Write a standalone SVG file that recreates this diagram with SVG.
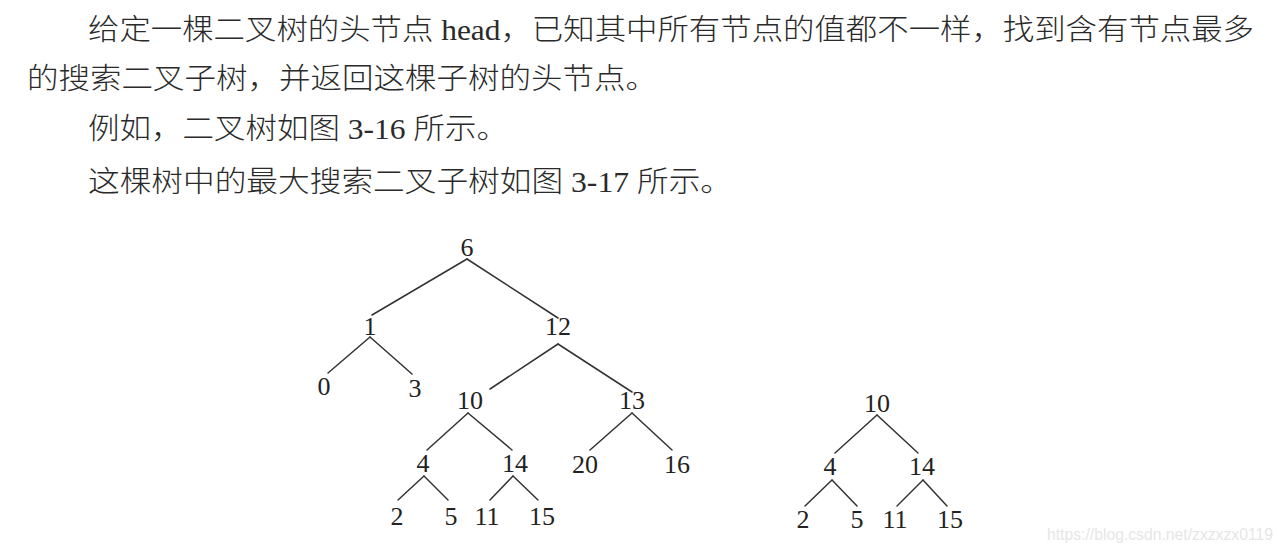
<svg xmlns="http://www.w3.org/2000/svg" width="1279" height="551" viewBox="0 0 1279 551">
<style>
.p{font-family:"Liberation Serif","Noto Sans CJK SC",serif;font-size:29px;font-weight:300;fill:#2a2a2a}
.n{font-family:"Liberation Serif",serif;font-size:26px;fill:#222;text-anchor:middle}
.e{stroke:#333;stroke-width:1.5;fill:none;stroke-linecap:round}
.w{font-family:"Liberation Sans",sans-serif;font-size:16px;fill:#e6e6e6}
</style>
<rect width="1279" height="551" fill="#fff"/>
<g id="text">
<text class="p" x="88" y="40" textLength="1166" lengthAdjust="spacingAndGlyphs">给定一棵二叉树的头节点 head，已知其中所有节点的值都不一样，找到含有节点最多</text>
<text class="p" x="27" y="89" textLength="630" lengthAdjust="spacingAndGlyphs">的搜索二叉子树，并返回这棵子树的头节点。</text>
<text class="p" x="88" y="139" textLength="420" lengthAdjust="spacingAndGlyphs">例如，二叉树如图 3-16 所示。</text>
<text class="p" x="88" y="192" textLength="644" lengthAdjust="spacingAndGlyphs">这棵树中的最大搜索二叉子树如图 3-17 所示。</text>
</g>
<g id="connectors">
<line class="e" x1="467" y1="259" x2="372" y2="315"/>
<line class="e" x1="467" y1="259" x2="558" y2="318"/>
<line class="e" x1="370" y1="337" x2="328" y2="373"/>
<line class="e" x1="370" y1="337" x2="412" y2="374"/>
<line class="e" x1="558" y1="344" x2="490" y2="389"/>
<line class="e" x1="558" y1="344" x2="632" y2="392"/>
<line class="e" x1="468" y1="413" x2="427" y2="450"/>
<line class="e" x1="468" y1="413" x2="512" y2="450"/>
<line class="e" x1="632" y1="413" x2="590" y2="450"/>
<line class="e" x1="632" y1="413" x2="672" y2="450"/>
<line class="e" x1="424" y1="476" x2="398" y2="500"/>
<line class="e" x1="424" y1="476" x2="448" y2="500"/>
<line class="e" x1="513" y1="476" x2="490" y2="500"/>
<line class="e" x1="513" y1="476" x2="538" y2="500"/>
<line class="e" x1="877" y1="415" x2="835" y2="453"/>
<line class="e" x1="877" y1="415" x2="918" y2="453"/>
<line class="e" x1="832" y1="480" x2="805" y2="506"/>
<line class="e" x1="832" y1="480" x2="857" y2="506"/>
<line class="e" x1="923" y1="480" x2="897" y2="506"/>
<line class="e" x1="923" y1="480" x2="947" y2="506"/>
</g>
<g id="n6"><text class="n" x="467" y="256">6</text></g>
<g id="n1"><text class="n" x="370" y="335">1</text></g>
<g id="n12"><text class="n" x="558" y="335">12</text></g>
<g id="n0"><text class="n" x="324" y="395">0</text></g>
<g id="n3"><text class="n" x="415" y="397">3</text></g>
<g id="n10"><text class="n" x="470" y="409">10</text></g>
<g id="n13"><text class="n" x="632" y="409">13</text></g>
<g id="n4"><text class="n" x="423" y="472">4</text></g>
<g id="n14"><text class="n" x="515" y="472">14</text></g>
<g id="n20"><text class="n" x="585" y="473">20</text></g>
<g id="n16"><text class="n" x="677" y="473">16</text></g>
<g id="n2"><text class="n" x="397" y="525">2</text></g>
<g id="n5"><text class="n" x="451" y="525">5</text></g>
<g id="n11"><text class="n" x="487" y="525">11</text></g>
<g id="n15"><text class="n" x="542" y="525">15</text></g>
<g id="r10"><text class="n" x="877" y="412">10</text></g>
<g id="r4"><text class="n" x="830" y="475">4</text></g>
<g id="r14"><text class="n" x="922" y="475">14</text></g>
<g id="r2"><text class="n" x="803" y="528">2</text></g>
<g id="r5"><text class="n" x="857" y="528">5</text></g>
<g id="r11"><text class="n" x="895" y="528">11</text></g>
<g id="r15"><text class="n" x="950" y="528">15</text></g>
<g id="watermark"><text class="w" x="1047" y="540" textLength="226" lengthAdjust="spacingAndGlyphs">https://blog.csdn.net/zxzxzx0119</text></g>
</svg>
